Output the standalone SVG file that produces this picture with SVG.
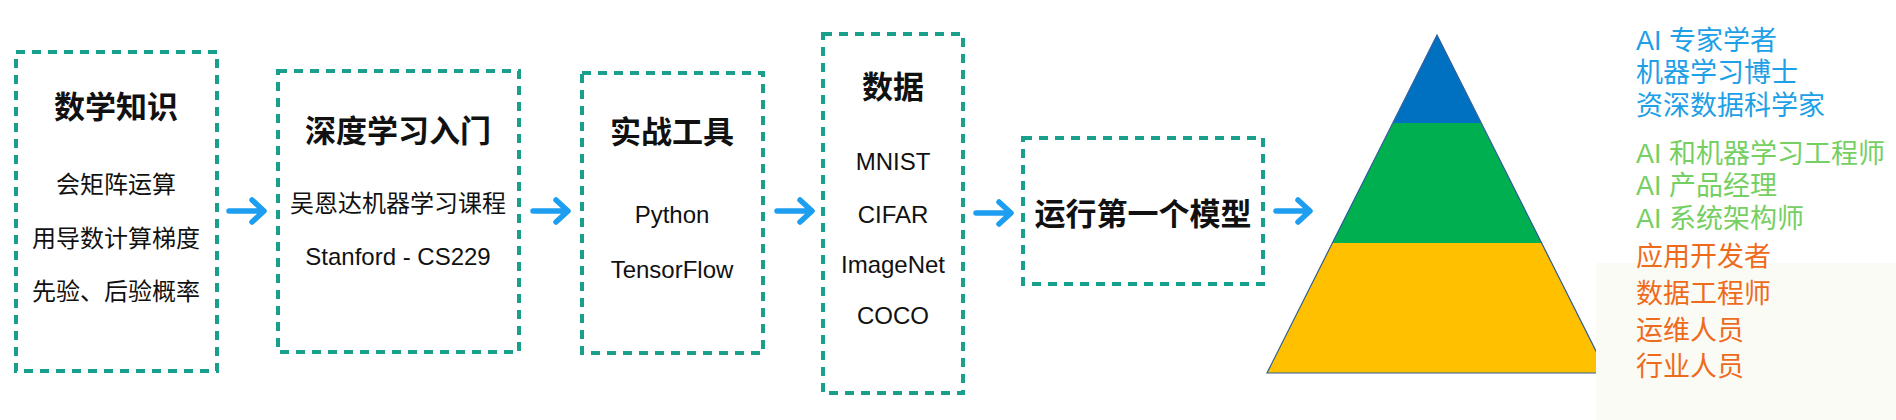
<svg xmlns="http://www.w3.org/2000/svg" width="1896" height="420" viewBox="0 0 1896 420">
<defs>
<style>
.box{fill:none;stroke:#18a08c;stroke-width:4;stroke-dasharray:9 7}
.t{font-family:"Noto Sans CJK SC","Liberation Sans",sans-serif;font-weight:700;font-size:31px;fill:#111;text-anchor:middle}
.s{font-family:"Liberation Sans","Noto Sans CJK SC",sans-serif;font-size:24px;fill:#111;text-anchor:middle}
.sc{font-family:"Noto Sans CJK SC",sans-serif;font-size:24px;fill:#111;text-anchor:middle}
.arr{fill:none;stroke:#1e9ef0;stroke-width:5.5;stroke-linecap:round;stroke-linejoin:round}
.r{font-family:"Liberation Sans","Noto Sans CJK SC",sans-serif;font-size:27px}
.b{fill:#1ea0e6}.g{fill:#76cf62}.o{fill:#ee6b1c}
</style>
</defs>
<rect width="1896" height="420" fill="#ffffff"/>
<g id="node-math">
<rect class="box" x="16" y="52" width="201" height="319"/>
<text class="t" x="116" y="118">数学知识</text>
<text class="sc" x="116" y="193">会矩阵运算</text>
<text class="sc" x="116" y="247">用导数计算梯度</text>
<text class="sc" x="116" y="300">先验、后验概率</text>
</g>
<g id="node-dl">
<rect class="box" x="278" y="71" width="241" height="281"/>
<text class="t" x="398" y="142">深度学习入门</text>
<text class="sc" x="398" y="212">吴恩达机器学习课程</text>
<text class="s" x="398" y="265">Stanford - CS229</text>
</g>
<g id="node-tools">
<rect class="box" x="582" y="73" width="181" height="280"/>
<text class="t" x="672" y="143">实战工具</text>
<text class="s" x="672" y="223">Python</text>
<text class="s" x="672" y="278">TensorFlow</text>
</g>
<g id="node-data">
<rect class="box" x="823" y="34" width="140" height="359"/>
<text class="t" x="893" y="98">数据</text>
<text class="s" x="893" y="170">MNIST</text>
<text class="s" x="893" y="223">CIFAR</text>
<text class="s" x="893" y="273">ImageNet</text>
<text class="s" x="893" y="324">COCO</text>
</g>
<g id="node-model">
<rect class="box" x="1023" y="138" width="240" height="146"/>
<text class="t" x="1143" y="225">运行第一个模型</text>
</g>
<g id="connectors">
<path class="arr" d="M229 211H263M252 200L264 211L252 222"/>
<path class="arr" d="M533 211H567M556 200L568 211L556 222"/>
<path class="arr" d="M777 211H811M800 200L812 211L800 222"/>
<path class="arr" d="M976 213H1010M999 202L1011 213L999 224"/>
<path class="arr" d="M1276 211H1309M1298 200L1310 211L1298 222"/>
</g>
<g id="node-pyramid">
<polygon points="1437,35 1393,123 1481,123" fill="#0070c0"/>
<polygon points="1393,123 1481,123 1542,243 1332,243" fill="#00b050"/>
<polygon points="1332,243 1542,243 1607,373 1267,373" fill="#ffc000"/>
<polygon points="1437,35 1607,373 1267,373" fill="none" stroke="#2f5d9a" stroke-width="1.2"/>
<rect x="1596" y="263" width="300" height="157" fill="#fbfbf6"/>
</g>
<g id="node-roles">
<text class="r b" x="1636" y="50">AI 专家学者</text>
<text class="r b" x="1636" y="82">机器学习博士</text>
<text class="r b" x="1636" y="115">资深数据科学家</text>
<text class="r g" x="1636" y="163">AI 和机器学习工程师</text>
<text class="r g" x="1636" y="195">AI 产品经理</text>
<text class="r g" x="1636" y="228">AI 系统架构师</text>
<text class="r o" x="1636" y="266">应用开发者</text>
<text class="r o" x="1636" y="303">数据工程师</text>
<text class="r o" x="1636" y="340">运维人员</text>
<text class="r o" x="1636" y="376">行业人员</text>
</g>
</svg>
